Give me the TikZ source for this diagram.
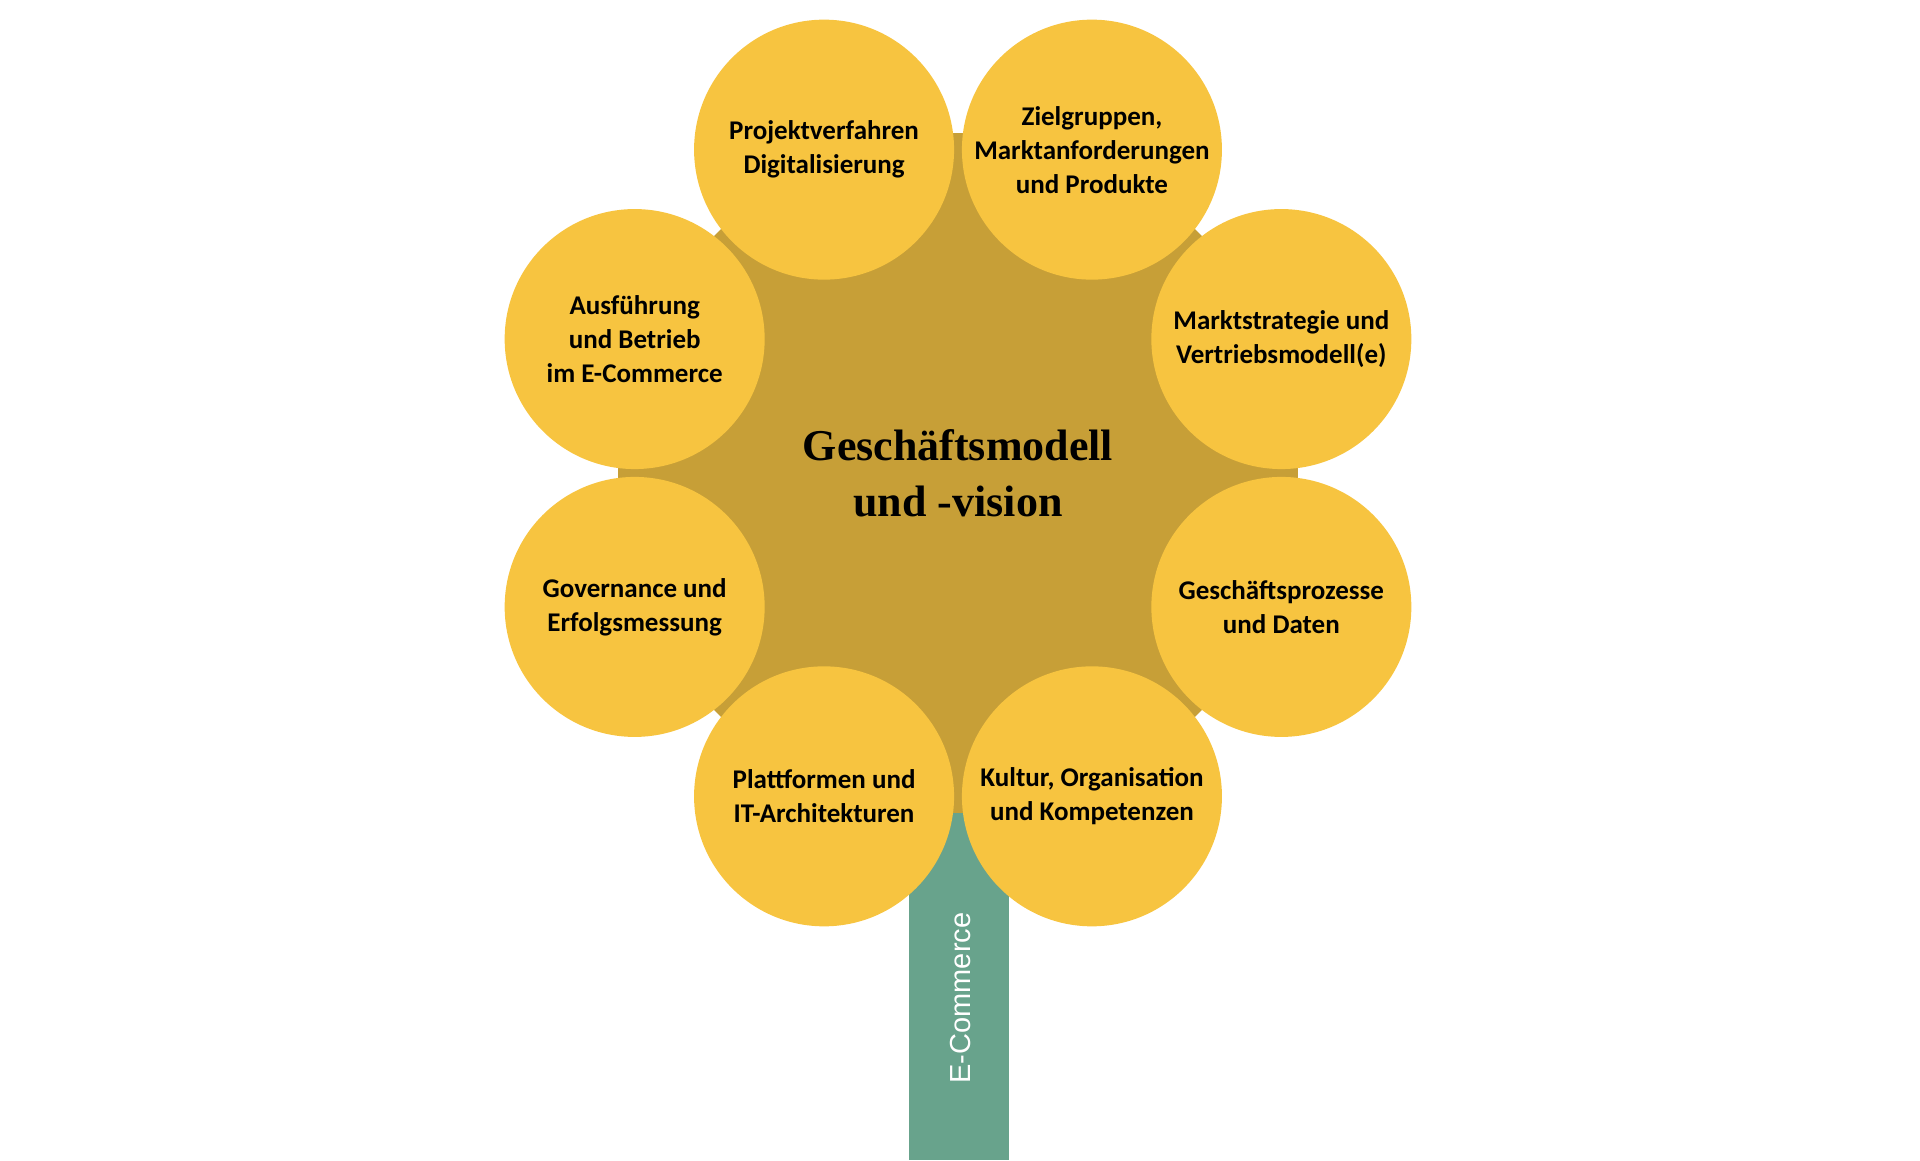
\documentclass[tikz,border=0pt]{standalone}
\usepackage{fontspec}
\setmainfont{Liberation Serif}
\newfontfamily\petalfont{Carlito}
\newfontfamily\stemfont{Liberation Sans}
\usetikzlibrary{positioning}
\usetikzlibrary{shapes.geometric}
\definecolor{petalyellow}{RGB}{247,196,64}
\definecolor{hubgold}{RGB}{199,159,55}
\definecolor{stemgreen}{RGB}{104,163,140}
\tikzset{
	petal/.style = {circle, fill=petalyellow, minimum size=260pt, inner sep=0pt, align=center,
		font=\petalfont\bfseries\fontsize{27}{34}\selectfont},
	hub/.style = {regular polygon, regular polygon sides=8, fill=hubgold, minimum size=736pt,
		inner sep=0pt, outer sep=0pt, align=center, font=\bfseries\fontsize{44}{56}\selectfont},
	stembox/.style = {rectangle, fill=stemgreen, minimum width=100pt, inner sep=0pt, outer sep=0pt}
}

\begin{document}
\begin{tikzpicture}[x=1pt, y=1pt]
		\useasboundingbox (0,0) rectangle (1920,1160);
		\coordinate (mid) at (958,687);
		\coordinate (ground) at (959,0);
		% stem
		\node[stembox, minimum height=347pt, anchor=south] (stem) at (ground) {};
		\node[rotate=90, text=white, font=\stemfont\fontsize{29}{34}\selectfont] (ecom) at (961,162) {E-Commerce};
		% hub
		\node[hub] (hub) at (mid) {Geschäftsmodell\\und -vision};
		% petals
		\foreach \n/\a/\t in {1/112.5/{Projektverfahren\\Digitalisierung},
				2/67.5/{Zielgruppen,\\Marktanforderungen\\und Produkte},
				3/22.5/{Marktstrategie und\\Vertriebsmodell(e)},
				4/-22.5/{Geschäftsprozesse\\und Daten},
				5/-67.5/{Kultur, Organisation\\und Kompetenzen},
				6/-112.5/{Plattformen und\\IT-Architekturen},
				7/-157.5/{Governance und\\Erfolgsmessung},
				8/157.5/{Ausführung\\und Betrieb\\im E-Commerce}}
			\node[petal] (p\n) at ([shift={(\a:350)}]mid) {\t};
	\end{tikzpicture}
\end{document}
